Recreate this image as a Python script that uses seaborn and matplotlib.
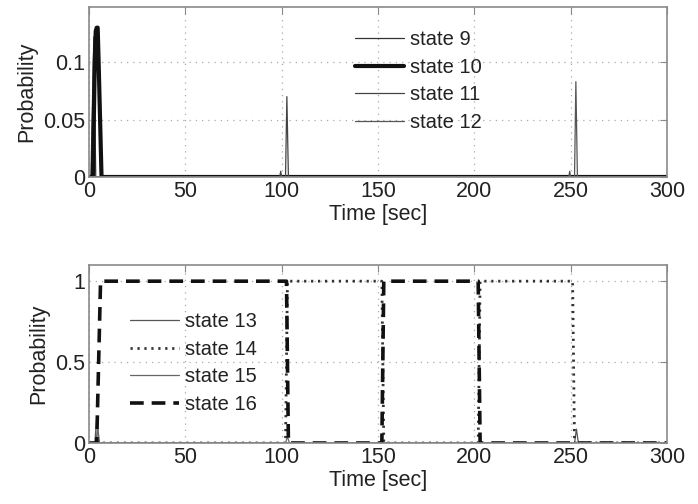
import matplotlib
matplotlib.use("Agg")
import matplotlib.pyplot as plt
import seaborn as sns
import numpy as np

# ---- data ----
t_s9 = [0, 1, 2.5, 3.5, 300]
p_s9 = [0, 0, 0.122, 0, 0]
t_s10 = [0, 2, 3, 3.5, 4, 4.5, 5, 6.5, 300]
p_s10 = [0, 0, 0.10, 0.127, 0.13, 0.13, 0.10, 0, 0]
t_s11 = [0, 99, 99.5, 100, 102, 102.7, 103.5, 300]
p_s11 = [0, 0, 0.005, 0, 0, 0.07, 0, 0]
t_s12 = [0, 249, 249.5, 250, 252, 252.7, 253.5, 300]
p_s12 = [0, 0, 0.005, 0, 0, 0.083, 0, 0]

t_s13 = [0, 3, 4, 5, 252, 253, 254, 300]
p_s13 = [0, 0, 0.15, 0, 0, 0.086, 0, 0]
t_s14 = [0, 102, 103, 152, 153, 202, 203, 251, 252, 300]
p_s14 = [0, 0, 1, 1, 0, 0, 1, 1, 0, 0]
t_s15 = [0, 3.5, 4.5, 5.5, 102, 103, 104, 300]
p_s15 = [0, 0, 0.1, 0, 0, 0.04, 0, 0]
t_s16 = [0, 4, 6, 102.5, 103.5, 152, 153, 202, 203, 300]
p_s16 = [0, 0, 1, 1, 0, 0, 1, 1, 0, 0]

x_ticks = [0, 50, 100, 150, 200, 250, 300]
top_yticks = [0, 0.05, 0.1]
top_yticklabels = ["0", "0.05", "0.1"]
bot_yticks = [0, 0.5, 1]
bot_yticklabels = ["0", "0.5", "1"]

sns.set_theme(style="white")
plt.rcParams["font.family"] = ["Liberation Sans", "DejaVu Sans"]

W, H = 698, 504
fig = plt.figure(figsize=(W / 100, H / 100), dpi=100)

def ax_rect(l, t, r, b):
    return [l / W, 1 - b / H, (r - l) / W, (b - t) / H]

ax1 = fig.add_axes(ax_rect(89, 7, 667, 177))
ax2 = fig.add_axes(ax_rect(89, 265, 667, 443))

txt = "#222222"
frame = "#8a8a8a"
fs = 15.5

def style(ax, yticks, ylabels, ylim):
    ax.set_xlim(0, 300)
    ax.set_ylim(*ylim)
    ax.set_xticks(x_ticks)
    ax.set_xticklabels([str(v) for v in x_ticks])
    ax.set_yticks(yticks)
    ax.set_yticklabels(ylabels)
    ax.grid(True, linestyle=(0, (1, 4)), color="#aaaaaa", linewidth=0.9)
    ax.tick_params(direction="in", length=5, width=0.8, color=frame,
                   top=True, right=True, labelsize=fs, labelcolor=txt, pad=3)
    for s in ax.spines.values():
        s.set_color(frame)
        s.set_linewidth(1.2)
    ax.set_xlabel("Time [sec]", fontsize=fs, color=txt, labelpad=1)
    ax.set_ylabel("Probability", fontsize=fs, color=txt, labelpad=4)

# top panel
sns.lineplot(x=t_s9, y=p_s9, ax=ax1, color="#333333", lw=0.9, estimator=None, sort=False, label="state 9")
sns.lineplot(x=t_s10, y=p_s10, ax=ax1, color="#111111", lw=3.0, estimator=None, sort=False, label="state 10")
sns.lineplot(x=t_s11, y=p_s11, ax=ax1, color="#444444", lw=0.9, estimator=None, sort=False, label="state 11")
sns.lineplot(x=t_s12, y=p_s12, ax=ax1, color="#555555", lw=0.9, estimator=None, sort=False, label="state 12")
style(ax1, top_yticks, top_yticklabels, (0, 0.148))

# bottom panel
sns.lineplot(x=t_s13, y=p_s13, ax=ax2, color="#555555", lw=0.9, estimator=None, sort=False, label="state 13")
l14 = sns.lineplot(x=t_s14, y=p_s14, ax=ax2, color="#333333", lw=2.0, estimator=None, sort=False, label="state 14")
sns.lineplot(x=t_s15, y=p_s15, ax=ax2, color="#666666", lw=0.9, estimator=None, sort=False, label="state 15")
sns.lineplot(x=t_s16, y=p_s16, ax=ax2, color="#111111", lw=2.6, estimator=None, sort=False, label="state 16")
lines2 = ax2.get_lines()
lines2[1].set_dashes((0.8, 1.7))
lines2[3].set_dashes((3.8, 2.2))
style(ax2, bot_yticks, bot_yticklabels, (0, 1.1))

for ax, (lx, cy) in [(ax1, (355, 81)), (ax2, (130, 363))]:
    leg = ax.legend(loc="center left", bbox_to_anchor=(lx / W, 1 - cy / H),
                    bbox_transform=fig.transFigure, frameon=False, fontsize=14.5,
                    handlelength=2.45, handletextpad=0.3, labelspacing=0.42,
                    borderpad=0, borderaxespad=0)
    for t in leg.get_texts():
        t.set_color(txt)

fig.savefig("out.png", dpi=100)
